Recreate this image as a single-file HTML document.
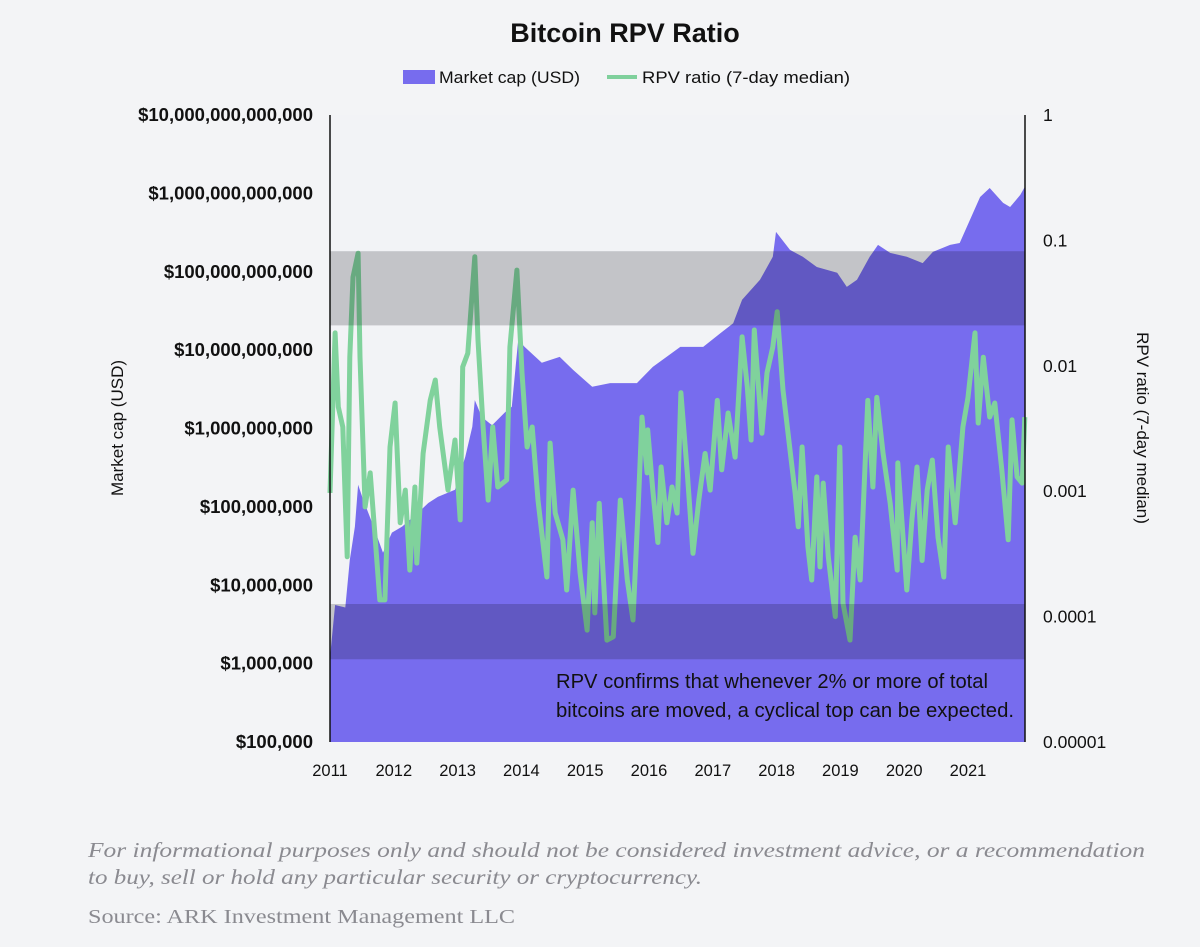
<!DOCTYPE html>
<html><head><meta charset="utf-8">
<style>
body{margin:0;background:#f3f4f6;}
svg{display:block;font-family:"Liberation Sans",sans-serif;}
</style></head>
<body>
<svg id="chart" width="1200" height="947" viewBox="0 0 1200 947">
<rect x="0" y="0" width="1200" height="947" fill="#f3f4f6"/>
<text x="625" y="42" text-anchor="middle" font-size="27" font-weight="bold" fill="#111">Bitcoin RPV Ratio</text>
<g>
  <rect x="403" y="70" width="32" height="14" fill="#776cee"/>
  <text x="439" y="83" font-size="17" fill="#111" textLength="141" lengthAdjust="spacingAndGlyphs">Market cap (USD)</text>
  <line x1="607" y1="77" x2="637" y2="77" stroke="#7fd09c" stroke-width="4"/>
  <text x="642" y="83" font-size="17" fill="#111" textLength="208" lengthAdjust="spacingAndGlyphs">RPV ratio (7-day median)</text>
</g>
<g id="plot"></g>
<g id="axes"></g>
<text x="123" y="428" font-size="17" fill="#111" text-anchor="middle" transform="rotate(-90 123 428)">Market cap (USD)</text>
<text x="1137" y="428" font-size="17" fill="#111" text-anchor="middle" transform="rotate(90 1137 428)">RPV ratio (7-day median)</text>
<text x="556" y="688" font-size="20" fill="#111" textLength="432" lengthAdjust="spacingAndGlyphs">RPV confirms that whenever 2% or more of total</text>
<text x="556" y="717" font-size="20" fill="#111" textLength="458" lengthAdjust="spacingAndGlyphs">bitcoins are moved, a cyclical top can be expected.</text>
<text x="88" y="857" font-size="21" font-style="italic" fill="#8a8a90" font-family="Liberation Serif, serif" textLength="1057" lengthAdjust="spacingAndGlyphs">For informational purposes only and should not be considered investment advice, or a recommendation</text>
<text x="88" y="884" font-size="21" font-style="italic" fill="#8a8a90" font-family="Liberation Serif, serif" textLength="614" lengthAdjust="spacingAndGlyphs">to buy, sell or hold any particular security or cryptocurrency.</text>
<text x="88" y="923" font-size="20" fill="#8a8a90" font-family="Liberation Serif, serif" textLength="427" lengthAdjust="spacingAndGlyphs">Source: ARK Investment Management LLC</text>
</svg>
<script>
const capYears=[2011.00,2011.08,2011.24,2011.31,2011.39,2011.44,2011.52,2011.66,2011.83,2011.97,2012.13,2012.38,2012.54,2012.69,2012.96,2013.12,2013.23,2013.27,2013.38,2013.54,2013.74,2013.85,2013.95,2014.05,2014.32,2014.60,2014.81,2015.11,2015.39,2015.81,2016.06,2016.49,2016.85,2017.12,2017.32,2017.46,2017.74,2017.94,2017.99,2018.21,2018.41,2018.63,2018.95,2019.10,2019.26,2019.46,2019.59,2019.78,2020.04,2020.29,2020.45,2020.72,2020.87,2021.03,2021.19,2021.34,2021.55,2021.66,2021.82,2021.89];
const capValues=[1.2e6,5.6e6,5.2e6,21e6,56e6,191e6,123e6,63e6,26e6,47e6,56e6,84e6,112e6,134e6,165e6,435e6,1.05e9,2.3e9,1.4e9,1.1e9,1.6e9,1.9e9,13.5e9,11e9,6.9e9,8.2e9,5.6e9,3.4e9,3.8e9,3.8e9,6.1e9,11e9,11e9,16.5e9,22e9,44e9,79e9,155e9,322e9,190e9,155e9,115e9,97e9,64e9,79e9,155e9,220e9,174e9,155e9,129e9,179e9,220e9,233e9,458e9,900e9,1.17e12,755e9,671e9,955e9,1.21e12];
const rpvYears=[2011.00,2011.08,2011.13,2011.20,2011.27,2011.31,2011.36,2011.44,2011.47,2011.55,2011.63,2011.71,2011.78,2011.86,2011.94,2012.02,2012.10,2012.18,2012.25,2012.33,2012.36,2012.46,2012.57,2012.65,2012.72,2012.85,2012.96,2013.04,2013.08,2013.16,2013.27,2013.32,2013.40,2013.48,2013.55,2013.63,2013.77,2013.82,2013.93,2014.01,2014.09,2014.17,2014.26,2014.40,2014.45,2014.53,2014.65,2014.71,2014.81,2014.92,2015.03,2015.11,2015.15,2015.22,2015.34,2015.44,2015.55,2015.66,2015.75,2015.83,2015.89,2015.97,2015.98,2016.06,2016.14,2016.19,2016.28,2016.36,2016.44,2016.50,2016.60,2016.69,2016.78,2016.88,2016.96,2017.07,2017.14,2017.24,2017.35,2017.46,2017.54,2017.60,2017.65,2017.77,2017.85,2017.94,2018.01,2018.10,2018.21,2018.29,2018.34,2018.40,2018.49,2018.55,2018.63,2018.68,2018.73,2018.81,2018.92,2018.99,2019.04,2019.15,2019.23,2019.31,2019.43,2019.51,2019.57,2019.67,2019.78,2019.89,2019.90,2020.04,2020.12,2020.20,2020.28,2020.36,2020.44,2020.53,2020.62,2020.69,2020.80,2020.92,2021.00,2021.11,2021.16,2021.24,2021.34,2021.42,2021.53,2021.63,2021.69,2021.77,2021.85,2021.89];
const rpvValues=[0.00097,0.0183,0.0047,0.00325,0.0003,0.0117,0.051,0.079,0.0117,0.00075,0.0014,0.00041,0.000136,0.000136,0.00225,0.00505,0.00056,0.00102,0.000235,0.00108,0.000267,0.002,0.0053,0.0077,0.00325,0.00102,0.00256,0.00059,0.0098,0.0126,0.074,0.016,0.00325,0.00085,0.00325,0.00108,0.00123,0.0141,0.058,0.0088,0.00225,0.00325,0.00085,0.000207,0.00242,0.00067,0.00041,0.000163,0.00102,0.000223,0.000078,0.00056,0.000107,0.0008,0.000065,0.000069,0.00085,0.000196,0.000094,0.00075,0.0039,0.0014,0.00308,0.00102,0.00039,0.00156,0.00056,0.00108,0.00067,0.0061,0.0014,0.00032,0.00085,0.002,0.00102,0.0053,0.00148,0.0042,0.00187,0.017,0.0068,0.00256,0.0193,0.0029,0.0088,0.0141,0.027,0.0064,0.00213,0.00097,0.00052,0.00225,0.00036,0.000196,0.0013,0.000249,0.00116,0.0003,0.0001,0.00225,0.000128,0.000065,0.00043,0.000196,0.0053,0.00108,0.0056,0.002,0.0008,0.000235,0.00168,0.000163,0.00059,0.00156,0.00028,0.00102,0.00177,0.00043,0.000207,0.00225,0.00056,0.00325,0.0056,0.0183,0.0035,0.0117,0.0039,0.00505,0.00148,0.00041,0.0037,0.0013,0.00116,0.0039];
const leftTicks=[1e5,1e6,1e7,1e8,1e9,1e10,1e11,1e12,1e13];
const leftTickLabels=["$100,000","$1,000,000","$10,000,000","$100,000,000","$1,000,000,000","$10,000,000,000","$100,000,000,000","$1,000,000,000,000","$10,000,000,000,000"];
const rightTicks=[1e-5,1e-4,1e-3,1e-2,1e-1,1];
const rightTickLabels=["0.00001","0.0001","0.001","0.01","0.1","1"];
const xTicks=[2011,2012,2013,2014,2015,2016,2017,2018,2019,2020,2021];
const bands=[[0.021,0.082],[0.0000457,0.000126]];

const X0=330,X1=1025,YT=115,YB=742;
const NS="http://www.w3.org/2000/svg";
const xS=y=>X0+(y-2011)*63.8;
const yL=v=>YB-(Math.log10(v)-5)/8*(YB-YT);
const yR=v=>YB-(Math.log10(v)+5)/5*(YB-YT);
function mk(tag,attrs,parent){const e=document.createElementNS(NS,tag);for(const k in attrs)e.setAttribute(k,attrs[k]);parent.appendChild(e);return e;}
const plot=document.getElementById('plot'),axes=document.getElementById('axes');
const bg=mk('rect',{x:X0,y:YT,width:X1-X0,height:YB-YT,fill:'#f2f3f6'},plot);


let d=`M${xS(capYears[0])},${YB}`;
capYears.forEach((t,i)=>{d+=`L${xS(t).toFixed(1)},${yL(capValues[i]).toFixed(1)}`;});
d+=`L${xS(capYears[capYears.length-1])},${YB}Z`;
const area=mk('path',{d:d,fill:'#776cee'},plot);


let ld='';
rpvYears.forEach((t,i)=>{ld+=(i?'L':'M')+xS(t).toFixed(1)+','+yR(rpvValues[i]).toFixed(1);});
const line=mk('path',{d:ld,fill:'none',stroke:'#80d29c','stroke-width':5,'stroke-linejoin':'round'},plot);


bands.forEach(b=>{
  const r=mk('rect',{x:X0,y:yR(b[1]),width:X1-X0,height:yR(b[0])-yR(b[1]),fill:'rgba(10,10,20,0.2)'},plot);
  
  
});
const la=mk('line',{x1:X0,y1:YT,x2:X0,y2:YB,stroke:'#111','stroke-width':1.5},axes);


const ra=mk('line',{x1:X1,y1:YT,x2:X1,y2:YB,stroke:'#111','stroke-width':1.5},axes);


leftTicks.forEach((v,i)=>{
  const t=mk('text',{x:313,y:yL(v)+6,'text-anchor':'end','font-size':18.5,'font-weight':'bold',fill:'#111'},axes);
  t.textContent=leftTickLabels[i];
  
  
});
rightTicks.forEach((v,i)=>{
  const t=mk('text',{x:1043,y:yR(v)+6,'font-size':17.5,fill:'#111'},axes);
  t.textContent=rightTickLabels[i];
  
  
});
xTicks.forEach(y=>{
  const t=mk('text',{x:xS(y),y:776,'text-anchor':'middle','font-size':16.5,fill:'#111'},axes);
  t.textContent=String(y);
  
  
});
</script>
</body></html>
